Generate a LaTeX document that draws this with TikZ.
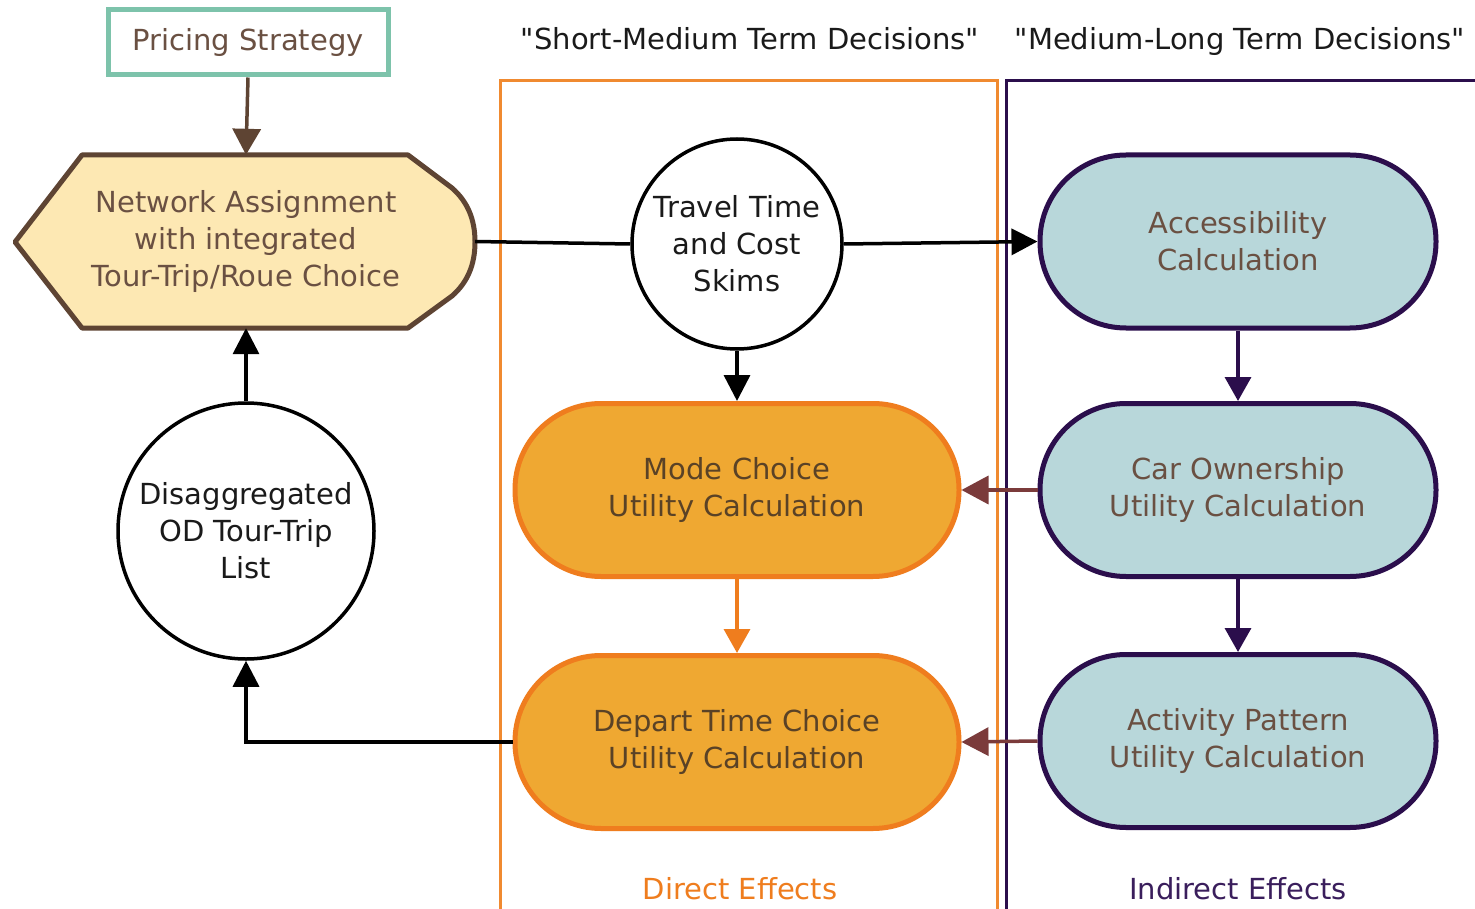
\documentclass[tikz,border=0pt]{standalone}
\usepackage{fontspec}
\setmainfont{DejaVu Sans}[Ligatures=TeXOff]
\usetikzlibrary{arrows.meta,shapes.geometric}
\definecolor{cTeal}{HTML}{7DC3AB}
\definecolor{cBrown}{HTML}{5E4433}
\definecolor{cHexFill}{HTML}{FDE8B3}
\definecolor{cOrange}{HTML}{EF7D1E}
\definecolor{cOrangeFill}{HTML}{EFA832}
\definecolor{cPurple}{HTML}{2B0E4C}
\definecolor{cBlueFill}{HTML}{B8D7DA}
\definecolor{cMaroon}{HTML}{7B3B3B}
\definecolor{cTxtBrown}{HTML}{6A5042}
\definecolor{cTxtDark}{HTML}{5A4226}
\definecolor{cTxtBlack}{HTML}{1A1A1A}
\definecolor{cFrameOrange}{HTML}{F08A30}
\definecolor{cIndirect}{HTML}{3A1E5C}
\begin{document}
\begin{tikzpicture}[x=1pt,y=-1pt,
  txt/.style={font=\fontsize{29}{37}\selectfont, align=center},
  stad/.style={txt, rectangle, rounded corners=86pt, line width=5pt, minimum width=396pt, minimum height=173pt, inner sep=0pt},
  dirst/.style={stad, draw=cOrange, fill=cOrangeFill, text=cTxtDark, minimum width=444pt},
  indst/.style={stad, draw=cPurple, fill=cBlueFill, text=cTxtBrown},
  bub/.style={txt, circle, draw=black, fill=white, line width=3.5pt, inner sep=0pt, text=cTxtBlack},
  blk/.style={line width=3.5pt, draw=black, -{Triangle[length=26pt,width=26pt]}},
  purp/.style={line width=3.5pt, draw=cPurple, -{Triangle[length=24pt,width=26pt]}},
  orng/.style={line width=3.5pt, draw=cOrange, -{Triangle[length=24pt,width=26pt]}},
  marn/.style={line width=3.5pt, draw=cMaroon, -{Triangle[length=27pt,width=28pt]}},
  brwn/.style={line width=3.5pt, draw=cBrown, -{Triangle[length=26pt,width=28pt]}},
  hdr/.style={font=\fontsize{29}{34}\selectfont, text=cTxtBlack, anchor=base}
]
\useasboundingbox (0,0) rectangle (1475,909);
\fill[white] (0,0) rectangle (1475,909);

% frames
\draw[cFrameOrange, line width=3pt] (500,940) -- (500,81) -- (997,81) -- (997,940);
\draw[cPurple, line width=3pt] (1006,940) -- (1006,81) -- (1500,81);

% headers
\node[hdr] (h1) at (750,50) {"Short-Medium Term Decisions"};
\node[hdr] (h2) at (1240,50) {"Medium-Long Term Decisions"};
\node[hdr, text=cOrange] (l1) at (740,899) {Direct Effects};
\node[hdr, text=cIndirect] (l2) at (1238,899) {Indirect Effects};

% pricing strategy
\node[txt, draw=cTeal, line width=5pt, fill=white, text=cTxtBrown, minimum width=280pt, minimum height=65pt, inner sep=0pt] (price) at (248,42.5) {Pricing Strategy};

% hexagon
\draw[cBrown, fill=cHexFill, line width=5pt, line join=round]
  (15,242) -- (82,155) -- (408,155) -- (452,188) .. controls (468,202) and (475,220) .. (475,242)
  .. controls (475,264) and (468,282) .. (452,296) -- (408,328) -- (82,328) -- cycle;
\node[txt, text=cTxtBrown, minimum width=458pt, minimum height=173pt, inner sep=0pt] (net) at (246,241.5) {Network Assignment\\with integrated\\Tour-Trip/Roue Choice};

% bubbles
\node[bub, minimum size=210pt] (trav) at (737,244) {Travel Time\\and Cost\\Skims};
\node[bub, minimum size=256pt] (dis) at (246,531) {Disaggregated\\OD Tour-Trip\\List};

% direct effects
\node[dirst] (mode) at (737,490) {Mode Choice\\Utility Calculation};
\node[dirst] (dep) at (737,742) {Depart Time Choice\\Utility Calculation};

% indirect effects
\node[indst] (acc) at (1238,241.5) {Accessibility\\Calculation};
\node[indst] (car) at (1238,490) {Car Ownership\\Utility Calculation};
\node[indst] (act) at (1238,741) {Activity Pattern\\Utility Calculation};

% connectors
\draw[brwn] (price.south) -- (net.north);
\draw[line width=3.5pt] (net.east) -- (trav.west);
\draw[blk] (trav.east) -- (acc.west);
\draw[blk] (trav.south) -- (mode.north);
\draw[purp] (acc.south) -- (car.north);
\draw[purp] (car.south) -- (act.north);
\draw[orng] (mode.south) -- (dep.north);
\draw[marn] (car.west) -- (mode.east);
\draw[marn] (act.west) -- (dep.east);
\draw[blk] (dep.west) -| (dis.south);
\draw[blk] (dis.north) -- (net.south);
\end{tikzpicture}
\end{document}
